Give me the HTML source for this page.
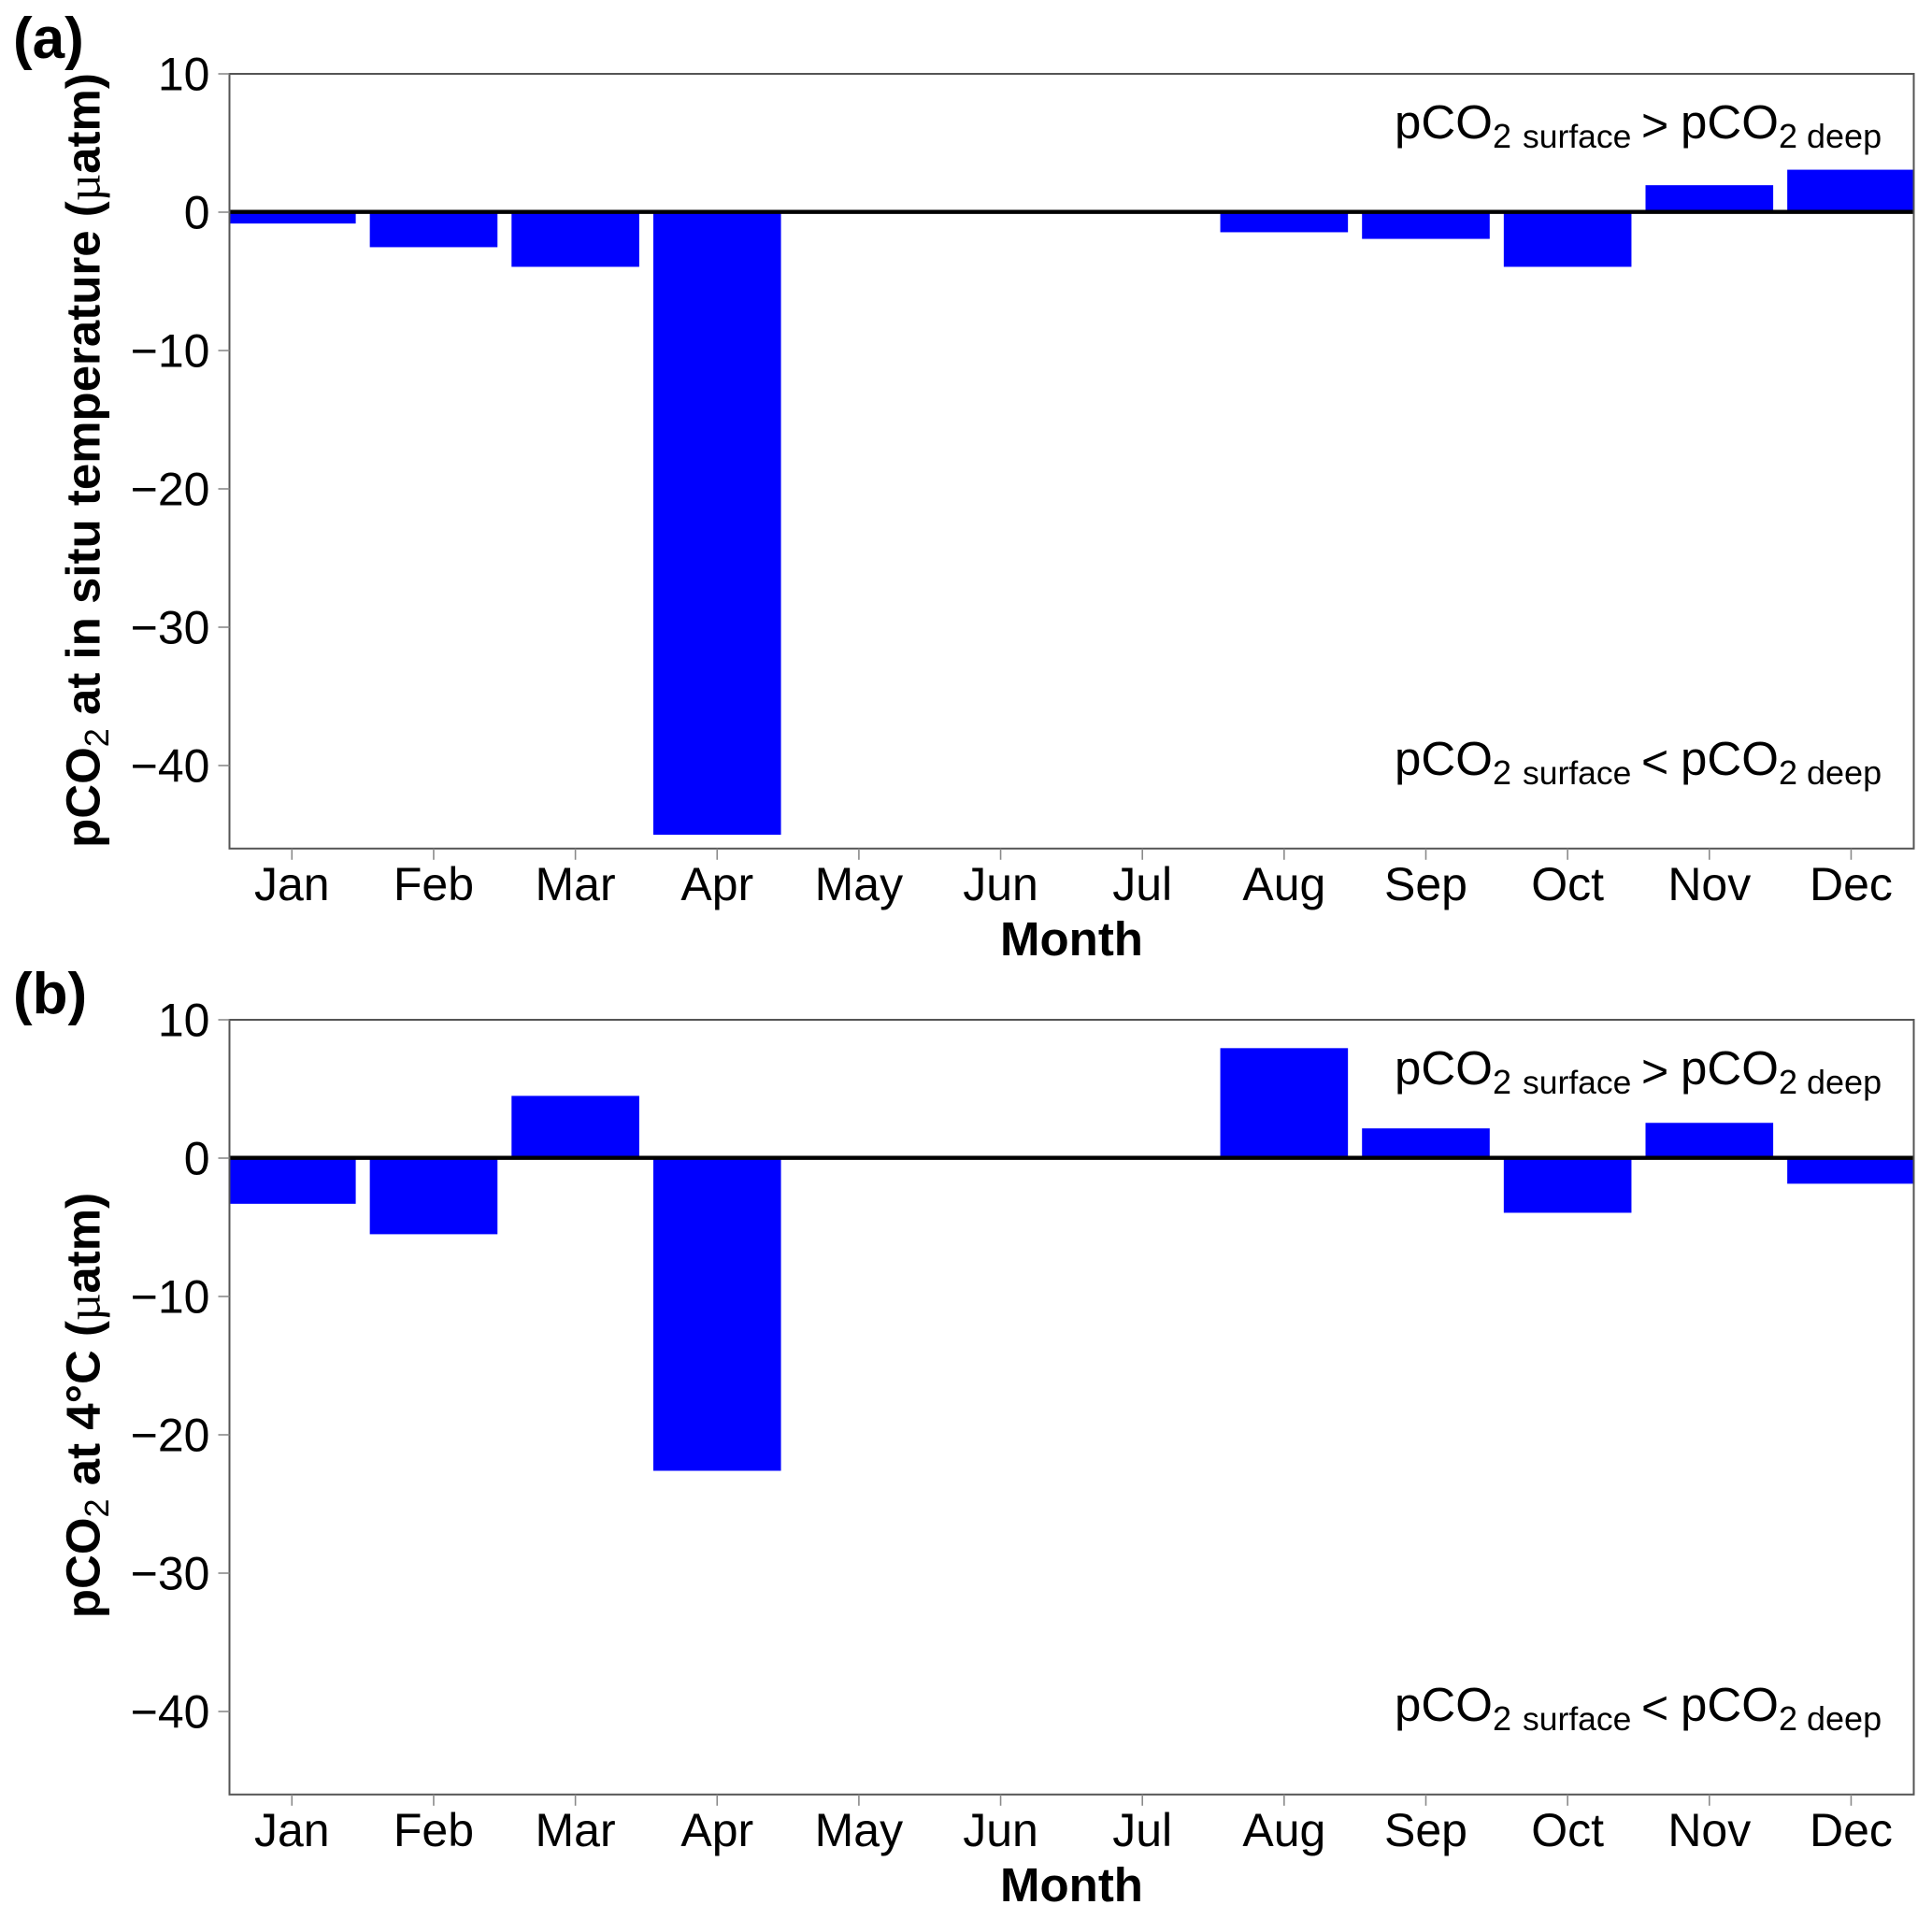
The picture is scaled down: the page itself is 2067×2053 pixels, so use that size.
<!DOCTYPE html>
<html lang="en">
<head>
<meta charset="utf-8">
<title>pCO2 monthly difference charts</title>
<style>
  html, body { margin: 0; padding: 0; background: #fff; }
  svg { display: block; }
  text { font-family: "Liberation Sans", sans-serif; fill: #000; }
</style>
</head>
<body>
<svg id="chart" xmlns="http://www.w3.org/2000/svg" width="2067" height="2053" viewBox="0 0 2067 2053"></svg>
<script>
const months = ['Jan','Feb','Mar','Apr','May','Jun','Jul','Aug','Sep','Oct','Nov','Dec'];
const panelAValues = [-0.82, -2.53, -3.95, -45, 0, 0, 0, -1.45, -1.93, -3.95, 1.95, 3.07];
const panelBValues = [-3.3, -5.5, 4.5, -22.6, 0, 0, 0, 7.95, 2.15, -3.95, 2.55, -1.85];
const yTicks = [10, 0, -10, -20, -30, -40];
const yDomain = [10, -46];

const NS = 'http://www.w3.org/2000/svg';
const svg = document.getElementById('chart');
const plotLeft = 245.5, plotRight = 2047.5, plotHeight = 828.8;
const firstMonthX = 312.3, monthStep = 151.65, barWidth = 136.6;

function xScale(i) { return firstMonthX + monthStep * i; }
function makeYScale(top) {
  return function (v) { return top + (yDomain[0] - v) / (yDomain[0] - yDomain[1]) * plotHeight; };
}
function make(tag, attrs, parent) {
  const el = document.createElementNS(NS, tag);
  for (const k in attrs) el.setAttribute(k, attrs[k]);
  parent.appendChild(el);
  return el;
}
function span(parent, txt, attrs) {
  const t = make('tspan', attrs, parent);
  t.textContent = txt;
  return t;
}
function annotation(group, baseY, symbol, name) {
  const t = make('text', {}, group);
  
  
  span(t, 'pCO', { x: 1492, y: baseY, 'font-size': 51 });
  span(t, '2', { x: 1597, y: baseY + 10, 'font-size': 36 });
  span(t, 'surface', { x: 1629, y: baseY + 10, 'font-size': 35.5 });
  span(t, symbol, { x: 1756, y: baseY + 3, 'font-size': 50 });
  span(t, 'pCO', { x: 1798, y: baseY, 'font-size': 51 });
  span(t, '2', { x: 1903, y: baseY + 10, 'font-size': 36 });
  span(t, 'deep', { x: 1933, y: baseY + 10, 'font-size': 36 });
}

function drawPanel(cfg) {
  const top = cfg.top;
  const y = makeYScale(top);
  const bottom = top + plotHeight;
  const g = make('g', {}, svg);
  
  

  const clipId = cfg.name + '-clip';
  const defs = make('defs', {}, g);
  const clip = make('clipPath', { id: clipId }, defs);
  make('rect', { x: plotLeft, y: top, width: plotRight - plotLeft, height: plotHeight }, clip);

  const bars = make('g', { 'clip-path': 'url(#' + clipId + ')' }, g);
  
  
  cfg.values.forEach(function (v, i) {
    const r = make('rect', {
      x: xScale(i) - barWidth / 2,
      y: Math.min(y(v), y(0)),
      width: barWidth,
      height: Math.abs(y(v) - y(0)),
      fill: '#0000ff'
    }, bars);
    
    
  });

  const zero = make('line', { x1: plotLeft, x2: plotRight, y1: y(0) - 0.3, y2: y(0) - 0.3, stroke: '#000', 'stroke-width': 4.4 }, g);
  
  

  const frame = make('rect', { x: plotLeft, y: top, width: plotRight - plotLeft, height: plotHeight, fill: 'none', stroke: '#555', 'stroke-width': 2 }, g);
  
  

  yTicks.forEach(function (v) {
    const tick = make('line', { x1: plotLeft - 12, x2: plotLeft, y1: y(v), y2: y(v), stroke: '#8a8a8a', 'stroke-width': 1.6 }, g);
    
    
    const lab = make('text', { x: 224.5, y: y(v) + 17.5, 'text-anchor': 'end', 'font-size': 50 }, g);
    
    
    lab.textContent = v < 0 ? '\u2212' + Math.abs(v) : String(v);
  });

  months.forEach(function (m, i) {
    const tick = make('line', { x1: xScale(i), x2: xScale(i), y1: bottom, y2: bottom + 12, stroke: '#8a8a8a', 'stroke-width': 1.6 }, g);
    
    
    const lab = make('text', { x: xScale(i), y: bottom + 55, 'text-anchor': 'middle', 'font-size': 50 }, g);
    
    
    lab.textContent = m;
  });

  const xTitle = make('text', { x: 1146.5, y: bottom + 114, 'text-anchor': 'middle', 'font-size': 51, 'font-weight': 'bold' }, g);
  
  
  xTitle.textContent = 'Month';

  const yTitle = make('text', { transform: 'translate(106.7 ' + cfg.titleY + ') rotate(-90)', 'text-anchor': 'middle', 'font-size': 51, 'font-weight': 'bold' }, g);
  
  
  span(yTitle, 'pCO', {});
  span(yTitle, '2', { dy: 9.5, 'font-size': 36, 'font-weight': 'normal' });
  span(yTitle, cfg.titleMid, { dy: -9.5 });
  span(yTitle, '\u00b5', { 'font-family': '"Liberation Serif", serif', 'font-weight': 'normal' });
  span(yTitle, 'atm)', {});

  const panelLabel = make('text', { x: 14, y: cfg.labelY, 'font-size': 62, 'font-weight': 'bold' }, g);
  
  
  panelLabel.textContent = cfg.label;

  annotation(g, top + 69, '>', 'annotation-surface-greater');
  annotation(g, top + 750, '<', 'annotation-surface-less');
}

drawPanel({ name: 'panel-a', label: '(a)', labelY: 62, top: 79, values: panelAValues, titleY: 492.5, titleMid: ' at in situ temperature (' });
drawPanel({ name: 'panel-b', label: '(b)', labelY: 1084, top: 1091, values: panelBValues, titleY: 1503.5, titleMid: ' at 4\u00b0C (' });
</script>
</body>
</html>
